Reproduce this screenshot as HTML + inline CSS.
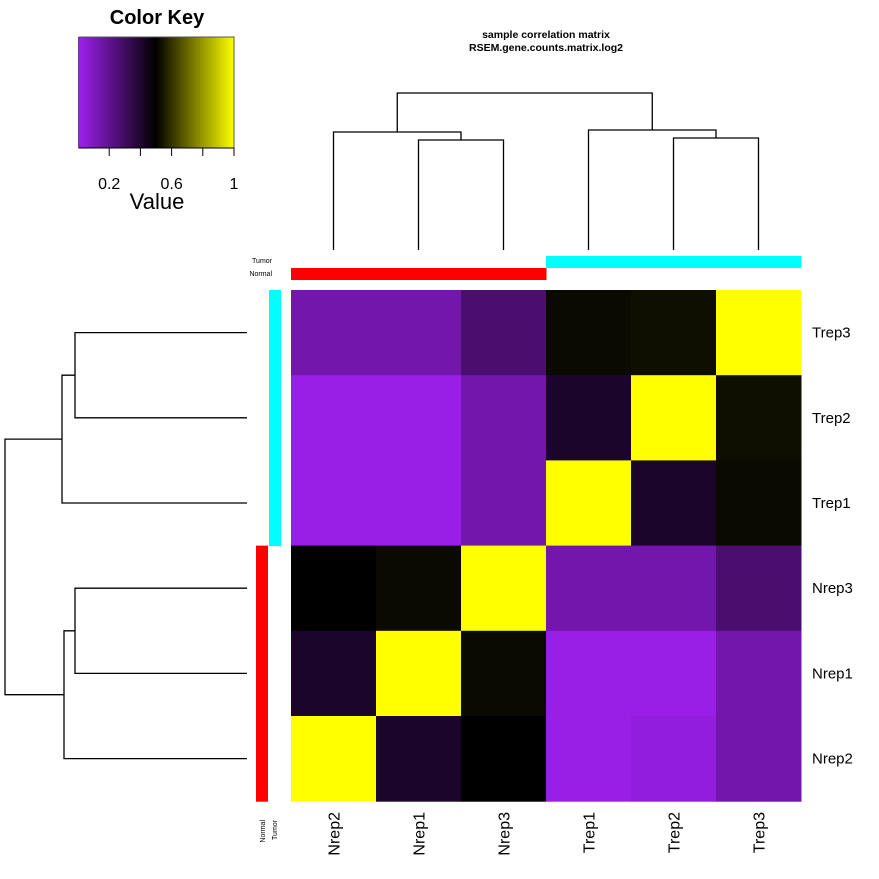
<!DOCTYPE html>
<html><head><meta charset="utf-8"><style>body{margin:0;background:#fff}svg{display:block;font-family:"Liberation Sans",Arial,sans-serif}</style></head>
<body>
<svg id="c" width="879" height="879" viewBox="0 0 879 879">
<rect width="879" height="879" fill="#fff"/>
<text x="546" y="38" font-size="10.5" font-weight="bold" text-anchor="middle">sample correlation matrix</text>
<text x="546" y="51" font-size="10.5" font-weight="bold" text-anchor="middle">RSEM.gene.counts.matrix.log2</text>
<text x="157" y="24" font-size="20" font-weight="bold" text-anchor="middle">Color Key</text>
<g id="key"></g>
<text x="157" y="209" font-size="22" text-anchor="middle">Value</text>
<g id="g"></g>
</svg>
<script>
const rowLabels=["Trep3","Trep2","Trep1","Nrep3","Nrep1","Nrep2"];
const colLabels=["Nrep2","Nrep1","Nrep3","Trep1","Trep2","Trep3"];
const rowGroups=["Tumor","Tumor","Tumor","Normal","Normal","Normal"];
const colGroups=["Normal","Normal","Normal","Tumor","Tumor","Tumor"];
const values=[
[0.14,0.14,0.27,0.52,0.53,1.00],
[0.02,0.02,0.14,0.41,1.00,0.53],
[0.02,0.02,0.14,1.00,0.41,0.52],
[0.50,0.52,1.00,0.14,0.14,0.27],
[0.41,1.00,0.52,0.02,0.02,0.14],
[1.00,0.41,0.50,0.02,0.04,0.14]];
const keyTicks=[0.2,0.4,0.6,0.8,1.0];
const keyTickLabels=["0.2","","0.6","","1"];
const NS="http://www.w3.org/2000/svg";
const svg=document.getElementById('g');
function mk(t,a,p){const e=document.createElementNS(NS,t);for(const k in a)e.setAttribute(k,a[k]);(p||svg).appendChild(e);return e;}
function col(v){let r,g,b;if(v<0.5){const f=1-v*2;r=160*f;g=32*f;b=240*f;}else{const f=(v-0.5)*2;r=255*f;g=255*f;b=0;}return `rgb(${r|0},${g|0},${b|0})`;}
const grpCol={Tumor:"#00ffff",Normal:"#ff0000"};
const X0=291,Y0=290,CW=85,CH=85.2;
const xs=i=>X0+i*CW, ys=j=>Y0+j*CH;
values.forEach((row,j)=>row.forEach((v,i)=>{
 const r=mk('rect',{x:xs(i),y:ys(j),width:CW+0.5,height:CH+0.5,fill:col(v)});
 
 
}));
rowLabels.forEach((l,j)=>{const t=mk('text',{x:812,y:ys(j)+CH/2+5,'font-size':15});t.textContent=l;
 
 
 const r=mk('rect',{x:rowGroups[j]=="Tumor"?269:256,y:ys(j),width:12,height:CH+0.5,fill:grpCol[rowGroups[j]]});
 
 });
colLabels.forEach((l,i)=>{const cx=xs(i)+CW/2;const t=mk('text',{x:0,y:0,'font-size':16,'text-anchor':'end',transform:`translate(${cx+6},812) rotate(-90)`});t.textContent=l;
 
 
 const r=mk('rect',{x:xs(i),y:colGroups[i]=="Tumor"?256:268,width:CW+0.5,height:12,fill:grpCol[colGroups[i]]});
 
 });
[["Tumor",263],["Normal",276]].forEach(([l,y])=>{const t=mk('text',{x:272,y:y,'font-size':7,'text-anchor':'end'});t.textContent=l;
 
 });
[["Normal",265],["Tumor",277]].forEach(([l,x])=>{const t=mk('text',{x:0,y:0,'font-size':7,'text-anchor':'end',transform:`translate(${x},820) rotate(-90)`});t.textContent=l;
 
 });
const st={stroke:'#000','stroke-width':1.3,fill:'none'};
function pl(pts,name){const p=mk('polyline',Object.assign({points:pts.map(p=>p.join(',')).join(' ')},st));}
const cc=i=>xs(i)+CW/2, rc=j=>ys(j)+CH/2;
pl([[cc(1),250],[cc(1),140],[cc(2),140],[cc(2),250]],'col-dendro-nrep1-nrep3');
const a1=(cc(1)+cc(2))/2;
pl([[cc(0),250],[cc(0),132],[a1,132],[a1,140]],'col-dendro-normal');
pl([[cc(4),250],[cc(4),138],[cc(5),138],[cc(5),250]],'col-dendro-trep2-trep3');
const b1=(cc(4)+cc(5))/2;
pl([[cc(3),250],[cc(3),130],[b1,130],[b1,138]],'col-dendro-tumor');
const a2=(cc(0)+a1)/2,b2=(cc(3)+b1)/2;
pl([[a2,132],[a2,93],[b2,93],[b2,130]],'col-dendro-root');
pl([[247,rc(0)],[75,rc(0)],[75,rc(1)],[247,rc(1)]],'row-dendro-trep3-trep2');
const r1=(rc(0)+rc(1))/2;
pl([[247,rc(2)],[62,rc(2)],[62,r1],[75,r1]],'row-dendro-tumor');
pl([[247,rc(3)],[75,rc(3)],[75,rc(4)],[247,rc(4)]],'row-dendro-nrep3-nrep1');
const r2=(rc(3)+rc(4))/2;
pl([[247,rc(5)],[64,rc(5)],[64,r2],[75,r2]],'row-dendro-normal');
const q1=(r1+rc(2))/2,q2=(r2+rc(5))/2;
pl([[62,q1],[5,q1],[5,q2],[64,q2]],'row-dendro-root');
const key=document.getElementById('key');
const kx=v=>78+v*156;
for(let k=0;k<78;k++){const v=k/78;mk('rect',{x:kx(v),y:37,width:2.2,height:111,fill:col(v+0.5/78)},key);}
mk('rect',{x:79,y:37,width:155,height:111,fill:'none',stroke:'#555','stroke-width':1},key);
mk('line',{x1:79,y1:148,x2:234,y2:148,stroke:'#000'},key);
keyTicks.forEach((t,i)=>{mk('line',{x1:kx(t),y1:148,x2:kx(t),y2:156,stroke:'#000'},key);
 if(keyTickLabels[i]){const e=mk('text',{x:kx(t),y:189,'font-size':16,'text-anchor':'middle'},key);e.textContent=keyTickLabels[i];
 
 }});
</script>
</body></html>
